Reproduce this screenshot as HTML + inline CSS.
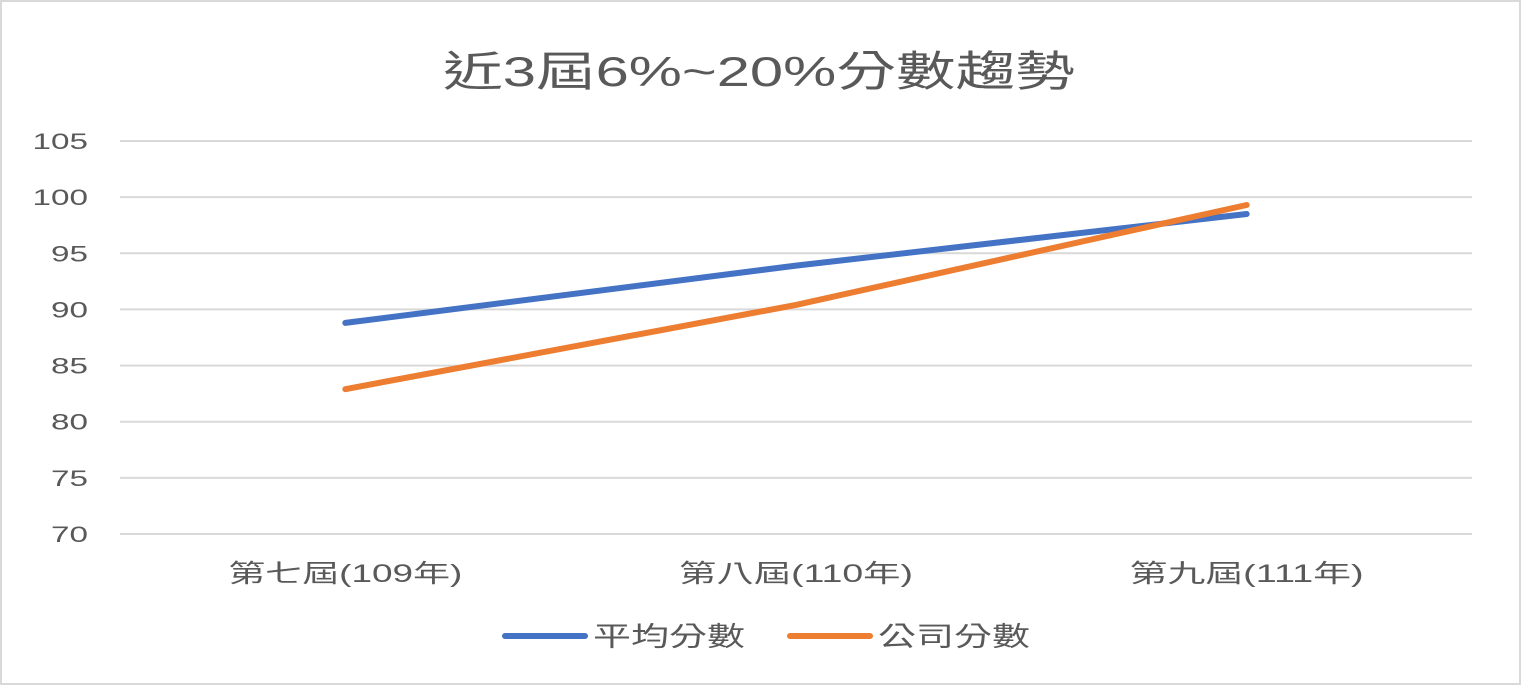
<!DOCTYPE html>
<html><head><meta charset="utf-8">
<style>
body{margin:0;background:#fff;}
#c{position:relative;width:1521px;height:685px;box-sizing:border-box;border:2px solid #d9d9d9;background:#fff;font-family:"Liberation Sans","Noto Sans CJK TC",sans-serif;overflow:hidden;}
svg{position:absolute;left:-2px;top:-2px;}
</style></head><body>
<div id="c">
<svg id="s" width="1521" height="685">
<text x="759" y="86" text-anchor="middle" font-size="42" fill="#595959" textLength="632" lengthAdjust="spacingAndGlyphs" font-family="Liberation Sans, Noto Sans CJK TC, sans-serif">近3屆6%~20%分數趨勢</text>
</svg>
</div>
<script>
const categories=["第七屆(109年)","第八屆(110年)","第九屆(111年)"];
const avgScores=[88.8,93.9,98.5];
const companyScores=[82.9,90.4,99.3];
const yTicks=[70,75,80,85,90,95,100,105];
const seriesNames=["平均分數","公司分數"];
const colors=["#4472c4","#ed7d31"];
const NS="http://www.w3.org/2000/svg";
const svg=document.getElementById('s');
const L=120,R=1472,T=141,B=534,yMin=70,yMax=105;
const y=v=>B-(v-yMin)/(yMax-yMin)*(B-T);
const bw=(R-L)/categories.length;
const x=i=>L+bw*(i+0.5);
function mk(tag,attrs){const e=document.createElementNS(NS,tag);for(const k in attrs)e.setAttribute(k,attrs[k]);svg.appendChild(e);return e;}
yTicks.forEach(t=>{
 const g=mk('line',{x1:L,x2:R,y1:y(t),y2:y(t),stroke:'#d9d9d9','stroke-width':2});
 
 
 const s=String(t);
 const l=mk('text',{x:88,y:y(t)+8,'text-anchor':'end','font-size':22,fill:'#595959',textLength:s.length*18.5,lengthAdjust:'spacingAndGlyphs'});
 l.textContent=s;
 
 
});
categories.forEach((c,i)=>{
 const l=mk('text',{x:x(i),y:582,'text-anchor':'middle','font-size':25,fill:'#595959',textLength:234,lengthAdjust:'spacingAndGlyphs'});
 l.textContent=c;
 
 
});
[avgScores,companyScores].forEach((s,k)=>{
 const p=mk('polyline',{points:s.map((v,i)=>x(i)+','+y(v)).join(' '),fill:'none',stroke:colors[k],'stroke-width':6,'stroke-linecap':'round','stroke-linejoin':'round'});
 
 
});
const lx=[505,790];
seriesNames.forEach((n,k)=>{
 const g=mk('line',{x1:lx[k],x2:lx[k]+80,y1:636,y2:636,stroke:colors[k],'stroke-width':6,'stroke-linecap':'round'});
 
 
 const t=mk('text',{x:lx[k]+88,y:646,'font-size':27,fill:'#595959',textLength:152,lengthAdjust:'spacingAndGlyphs'});
 t.textContent=n;
 
 
});
</script>
</body></html>
